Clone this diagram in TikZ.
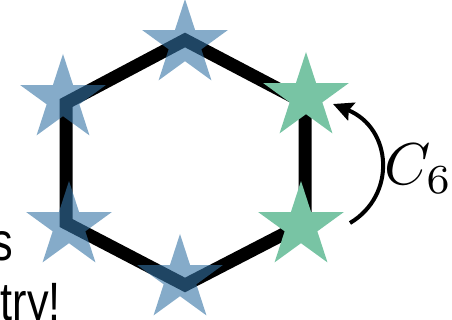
\documentclass[tikz,border=0pt]{standalone}
\usepackage{fontspec}
\setsansfont{Liberation Sans}
\usetikzlibrary{shapes.geometric,arrows.meta}
\definecolor{starblue}{RGB}{52,115,165}
\definecolor{stargreen}{RGB}{120,196,164}
\tikzset{
  hexline/.style={line width=13pt, line join=miter, black},
  starbase/.style={star, star points=5, star point ratio=2.618, minimum size=90pt, inner sep=0pt, draw=none},
  bluestar/.style={starbase, fill=starblue, fill opacity=0.6},
  greenstar/.style={starbase, fill=stargreen},
  rotarrow/.style={line width=4pt, -{Stealth[length=20pt,width=19pt,inset=3pt]}},
  bigtext/.style={font=\sffamily\fontsize{54}{62}\selectfont, inner sep=0pt, xscale=0.8, transform shape}
}
\begin{document}
\begin{tikzpicture}[x=1pt,y=-1pt]
\useasboundingbox (0,0) rectangle (452,320);
% hexagon vertices
\coordinate (vT) at (185,40);
\coordinate (vUL) at (66,103);
\coordinate (vLL) at (66,223);
\coordinate (vB) at (185,285);
\coordinate (vLR) at (305,223);
\coordinate (vUR) at (305,103);
\draw[hexline] (vT) -- (vUR) -- (vLR) -- (vB) -- (vLL) -- (vUL) -- cycle;
% stars
\node[bluestar] (sT) at (185,44) {};
\node[bluestar] (sUL) at (63,99) {};
\node[bluestar] (sLL) at (69,226) {};
\node[bluestar] (sB) at (180,279) {};
\node[greenstar] (sUR) at (306,97) {};
\node[greenstar] (sLR) at (301,226) {};
% rotation arrow
\coordinate (arrS) at (350,223);
\coordinate (arrE) at (333,104);
\draw[rotarrow] (arrS) .. controls (397,195) and (392,128) .. (arrE);
\node[anchor=base west, inner sep=0pt] (lbl) at (384,185) {\scalebox{5.9}{$C_6$}};
% cropped text
\node[bigtext, anchor=base east] (t1) at (13,260) {s};
\node[bigtext, anchor=base east] (t2) at (61,320) {try!};
\end{tikzpicture}
\end{document}
